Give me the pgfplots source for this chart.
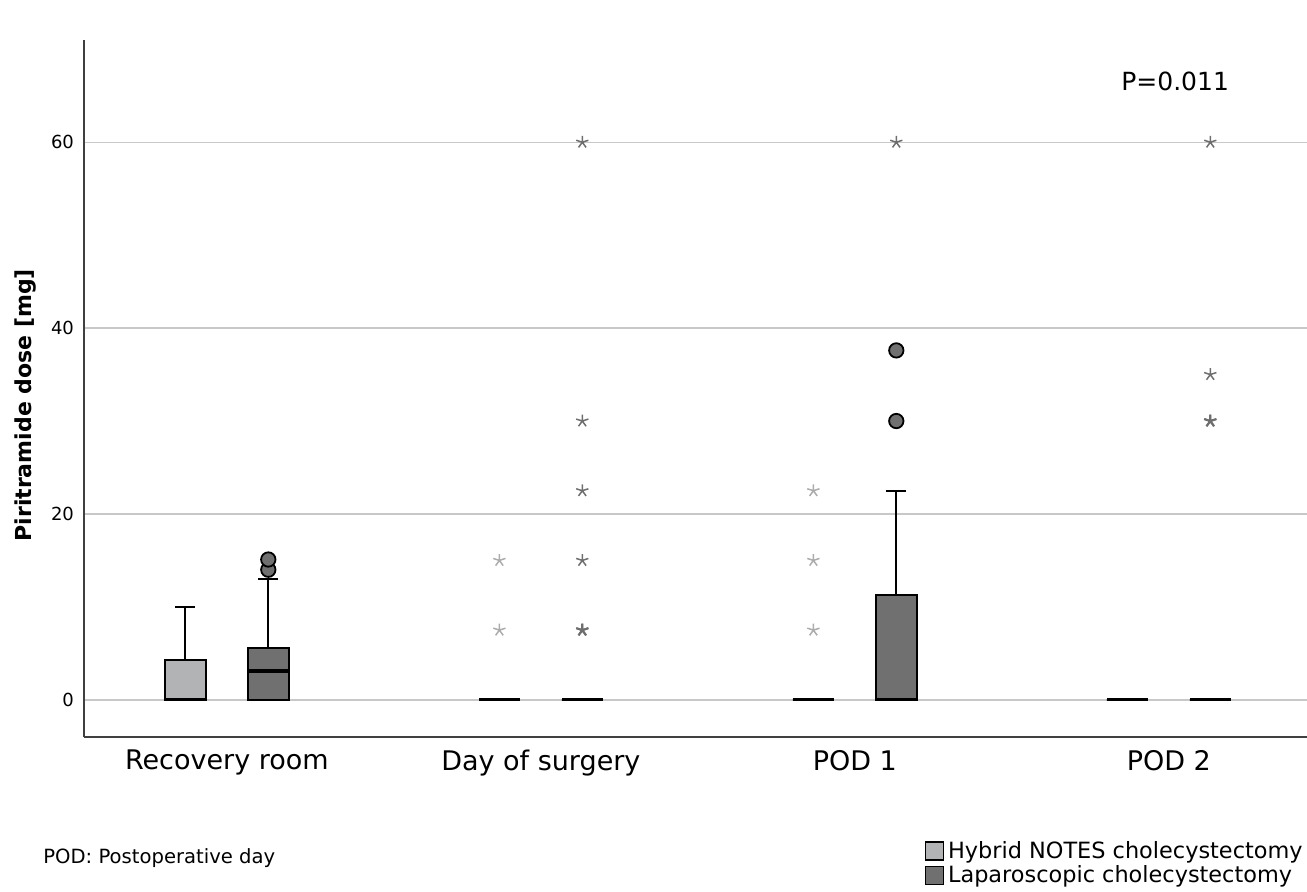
\documentclass[border=0pt]{standalone}
\usepackage{fontspec}
\setmainfont{DejaVu Sans}
\usepackage{pgfplots}
\pgfplotsset{compat=1.18}
\usepgfplotslibrary{statistics}
\definecolor{hyb}{RGB}{178,179,181}
\definecolor{lap}{RGB}{112,112,112}
\definecolor{hybs}{RGB}{172,172,172}
\definecolor{laps}{RGB}{110,110,110}
\definecolor{gridc}{RGB}{200,200,200}
\begin{document}
\begin{tikzpicture}
\path[use as bounding box] (-42pt,-77pt) rectangle (611.5pt,368.5pt);
\begin{axis}[
  at={(0,0)}, anchor=south west,
  scale only axis, width=611.5pt, height=348.5pt,
  xmin=-0.455, xmax=3.44, ymin=-4, ymax=71,
  axis x line*=bottom, axis y line*=left,
  axis line style={black!75, line width=0.8pt},
  xtick={0,1,2,3},
  xticklabels={Recovery room, Day of surgery, POD 1, POD 2},
  ytick={0,20,40,60},
  major tick length=0pt,
  ymajorgrids, grid style={gridc, line width=0.7pt},
  /pgf/number format/assume math mode=true,
  yticklabel style={font=\fontsize{9}{11}\selectfont, xshift=-1.5pt},
  xticklabel style={font=\fontsize{13.5}{16}\selectfont, yshift=-3pt},
  ylabel={\bfseries Piritramide dose [mg]},
  ylabel style={font=\fontsize{11}{13}\selectfont, at={(axis description cs:-0.0475,0.476)}, anchor=center},
  boxplot/draw direction=y,
  boxplot/box extend=0.13,
  boxplot/whisker extend=0.064,
  boxplot/every median/.style={line width=1.6pt, black},
  boxplot/every box/.style={line width=1pt},
  boxplot/every whisker/.style={line width=1pt},
  legend style={draw=none, fill=none, at={(axis description cs:1.0,-0.143)}, anchor=north east,
    font=\fontsize{11.2}{13}\selectfont, row sep=-2pt, inner sep=0pt},
  legend cell align=left,
  legend image code/.code={\draw[#1, line width=0.6pt] (0pt,-4.5pt) rectangle (9pt,4.5pt);},
  clip=false,
]
% Recovery room
\addplot[forget plot, fill=hyb, draw=black, boxplot prepared={draw position=-0.132, lower whisker=0, lower quartile=0, median=0, upper quartile=4.3, upper whisker=10}] coordinates {};
\addplot[forget plot, fill=lap, draw=black, boxplot prepared={draw position=0.132, lower whisker=0, lower quartile=0, median=3.1, upper quartile=5.6, upper whisker=13}] coordinates {};
% Day of surgery
\addplot[forget plot, fill=hyb, draw=black, boxplot prepared={draw position=0.868, lower whisker=0, lower quartile=0, median=0, upper quartile=0, upper whisker=0}] coordinates {};
\addplot[forget plot, fill=lap, draw=black, boxplot prepared={draw position=1.132, lower whisker=0, lower quartile=0, median=0, upper quartile=0, upper whisker=0}] coordinates {};
% POD 1
\addplot[forget plot, fill=hyb, draw=black, boxplot prepared={draw position=1.868, lower whisker=0, lower quartile=0, median=0, upper quartile=0, upper whisker=0}] coordinates {};
\addplot[forget plot, fill=lap, draw=black, boxplot prepared={draw position=2.132, lower whisker=0, lower quartile=0, median=0, upper quartile=11.3, upper whisker=22.5}] coordinates {};
% POD 2
\addplot[forget plot, fill=hyb, draw=black, boxplot prepared={draw position=2.868, lower whisker=0, lower quartile=0, median=0, upper quartile=0, upper whisker=0}] coordinates {};
\addplot[forget plot, fill=lap, draw=black, boxplot prepared={draw position=3.132, lower whisker=0, lower quartile=0, median=0, upper quartile=0, upper whisker=0}] coordinates {};
% outliers (circles)
\addplot[forget plot, only marks, mark=*, mark size=3.6pt, mark options={fill=lap, draw=black, line width=0.9pt}] coordinates {
 (0.132,14.0) (0.132,15.1) (2.132,30) (2.132,37.6)};
% extremes (stars) hybrid
\addplot[forget plot, only marks, mark=star, mark size=3.2pt, mark options={draw=hybs, line width=0.75pt}] coordinates {
 (0.868,7.5) (0.868,15) (1.868,7.5) (1.868,15) (1.868,22.5)};
% extremes (stars) laparoscopic
\addplot[forget plot, only marks, mark=star, mark size=3.2pt, mark options={draw=laps, line width=0.75pt}] coordinates {
 (1.132,7.5) (1.132,15) (1.132,22.5) (1.132,30) (1.132,60) (2.132,60) (3.132,30) (3.132,35) (3.132,60)};
\addplot[forget plot, only marks, mark=star, mark size=3.2pt, mark options={draw=laps, line width=1.1pt}] coordinates {
 (1.132,7.5) (3.132,30)};
\addlegendimage{fill=hyb, draw=black}
\addlegendentry{Hybrid NOTES cholecystectomy}
\addlegendimage{fill=lap, draw=black}
\addlegendentry{Laparoscopic cholecystectomy}
\node[font=\fontsize{12.5}{14}\selectfont] at (axis cs:3.02,66.6) {P=0.011};
\node[font=\fontsize{9.8}{12}\selectfont, anchor=west] at (axis description cs:-0.039,-0.1736) {POD: Postoperative day};
\end{axis}
\end{tikzpicture}
\end{document}
